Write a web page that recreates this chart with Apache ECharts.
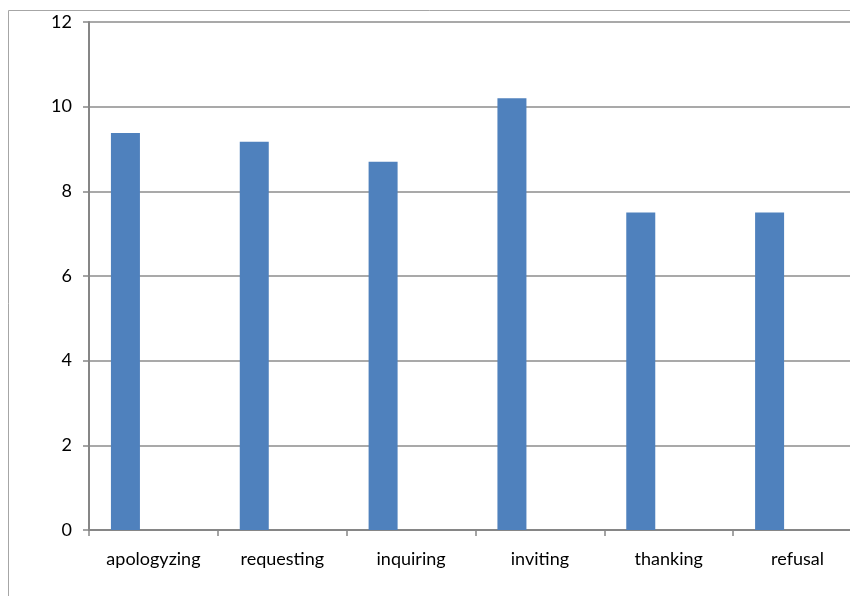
<!DOCTYPE html>
<html>
<head>
<meta charset="utf-8">
<script src="https://cdn.jsdelivr.net/npm/echarts@6/dist/echarts.min.js"></script>
<style>
  html, body { margin: 0; padding: 0; background: #fff; }
  #chart { width: 850px; height: 596px; }
</style>
</head>
<body>
<div id="chart"></div>
<script>
const categories = ['apologyzing', 'requesting', 'inquiring', 'inviting', 'thanking', 'refusal']
const values = [9.38, 9.17, 8.7, 10.2, 7.5, 7.5]
const emptySeries = ['-', '-', '-', '-', '-', '-'] // second (empty) series, keeps bars offset left

const myChart = echarts.init(document.getElementById('chart'))
const option = {
  animation: false,
  backgroundColor: '#fff',
  textStyle: { fontFamily: 'Lato, "Open Sans", sans-serif' },
  graphic: [
    {
      type: 'rect',
      shape: { x: 8.5, y: 10.5, width: 900, height: 700 },
      style: { fill: 'none', stroke: '#a6a6a6', lineWidth: 1 },
      z: 0,
    },
  ],
  grid: { left: 89, top: 22, width: 773, bottom: 66, outerBoundsMode: 'none', containLabel: false },
  xAxis: {
    type: 'category',
    data: categories,
    axisLine: { lineStyle: { color: '#868686', width: 2 } },
    axisTick: { show: true, length: 6, lineStyle: { color: '#868686', width: 1.5 } },
    axisLabel: { color: '#000', fontSize: 18, margin: 20 },
  },
  yAxis: {
    type: 'value',
    min: 0,
    max: 12,
    interval: 2,
    axisLine: { show: true, lineStyle: { color: '#868686', width: 2 } },
    axisTick: { show: true, length: 6, lineStyle: { color: '#868686', width: 1.5 } },
    axisLabel: { color: '#000', fontSize: 18, margin: 17 },
    splitLine: { show: true, lineStyle: { color: '#8c8c8c', width: 1.5 } },
  },
  series: [
    {
      type: 'bar',
      data: values,
      barWidth: 29,
      barGap: '93%',
      itemStyle: { color: '#4f81bd' },
    },
    {
      type: 'bar',
      data: emptySeries,
      barWidth: 29,
      itemStyle: { color: '#c0504d' },
    },
  ],
}
myChart.setOption(option)
</script>
</body>
</html>
